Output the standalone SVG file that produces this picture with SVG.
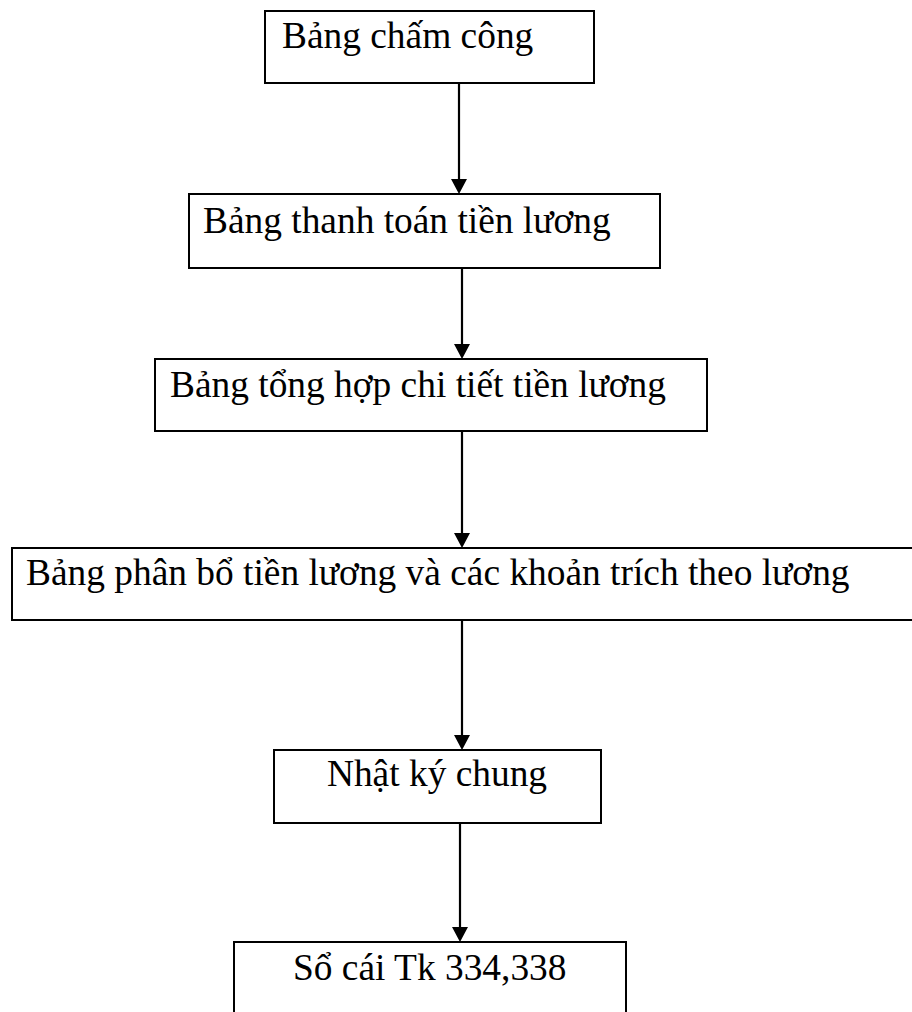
<svg xmlns="http://www.w3.org/2000/svg" width="912" height="1012" viewBox="0 0 912 1012">
  <style>
    .box { fill: #ffffff; stroke: #000000; stroke-width: 2; }
    .label { font-family: "Liberation Serif", "Times New Roman", serif; font-size: 37.4px; fill: #000000; }
    .flow { stroke: #000000; stroke-width: 2.2; fill: none; marker-end: url(#arrowhead); }
  </style>
  <defs>
    <marker id="arrowhead" markerUnits="userSpaceOnUse" markerWidth="16" markerHeight="17" refX="2" refY="8" orient="auto">
      <path d="M0,0 L15,8 L0,16 Z" fill="#000000"/>
    </marker>
  </defs>

  <rect width="912" height="1012" fill="#ffffff"/>

  <!-- connectors -->
  <g id="connectors">
    <line class="flow" x1="459" y1="83" x2="459" y2="181"/>
    <line class="flow" x1="462" y1="268" x2="462" y2="346"/>
    <line class="flow" x1="462" y1="431" x2="462" y2="535"/>
    <line class="flow" x1="462" y1="620" x2="462" y2="737"/>
    <line class="flow" x1="460" y1="823" x2="460" y2="929"/>
  </g>

  <!-- timesheet -->
  <g id="bang-cham-cong">
    <rect class="box" x="265" y="11" width="329" height="72"/>
    <text class="label" x="282" y="48">Bảng chấm công</text>
  </g>

  <!-- payroll sheet -->
  <g id="bang-thanh-toan">
    <rect class="box" x="189" y="194" width="471" height="74"/>
    <text class="label" x="203" y="233">Bảng thanh toán tiền lương</text>
  </g>

  <!-- detailed payroll summary -->
  <g id="bang-tong-hop">
    <rect class="box" x="155" y="359" width="552" height="72"/>
    <text class="label" x="170" y="397">Bảng tổng hợp chi tiết tiền lương</text>
  </g>

  <!-- payroll allocation sheet -->
  <g id="bang-phan-bo">
    <rect class="box" x="12" y="548" width="910" height="72"/>
    <text class="label" x="26" y="585">Bảng phân bổ tiền lương và các khoản trích theo lương</text>
  </g>

  <!-- general journal -->
  <g id="nhat-ky-chung">
    <rect class="box" x="274" y="750" width="327" height="73"/>
    <text class="label" x="437" y="786" text-anchor="middle">Nhật ký chung</text>
  </g>

  <!-- ledger 334, 338 -->
  <g id="so-cai">
    <rect class="box" x="234" y="942" width="392" height="100"/>
    <text class="label" x="293" y="980">Sổ cái Tk 334,338</text>
  </g>
</svg>
